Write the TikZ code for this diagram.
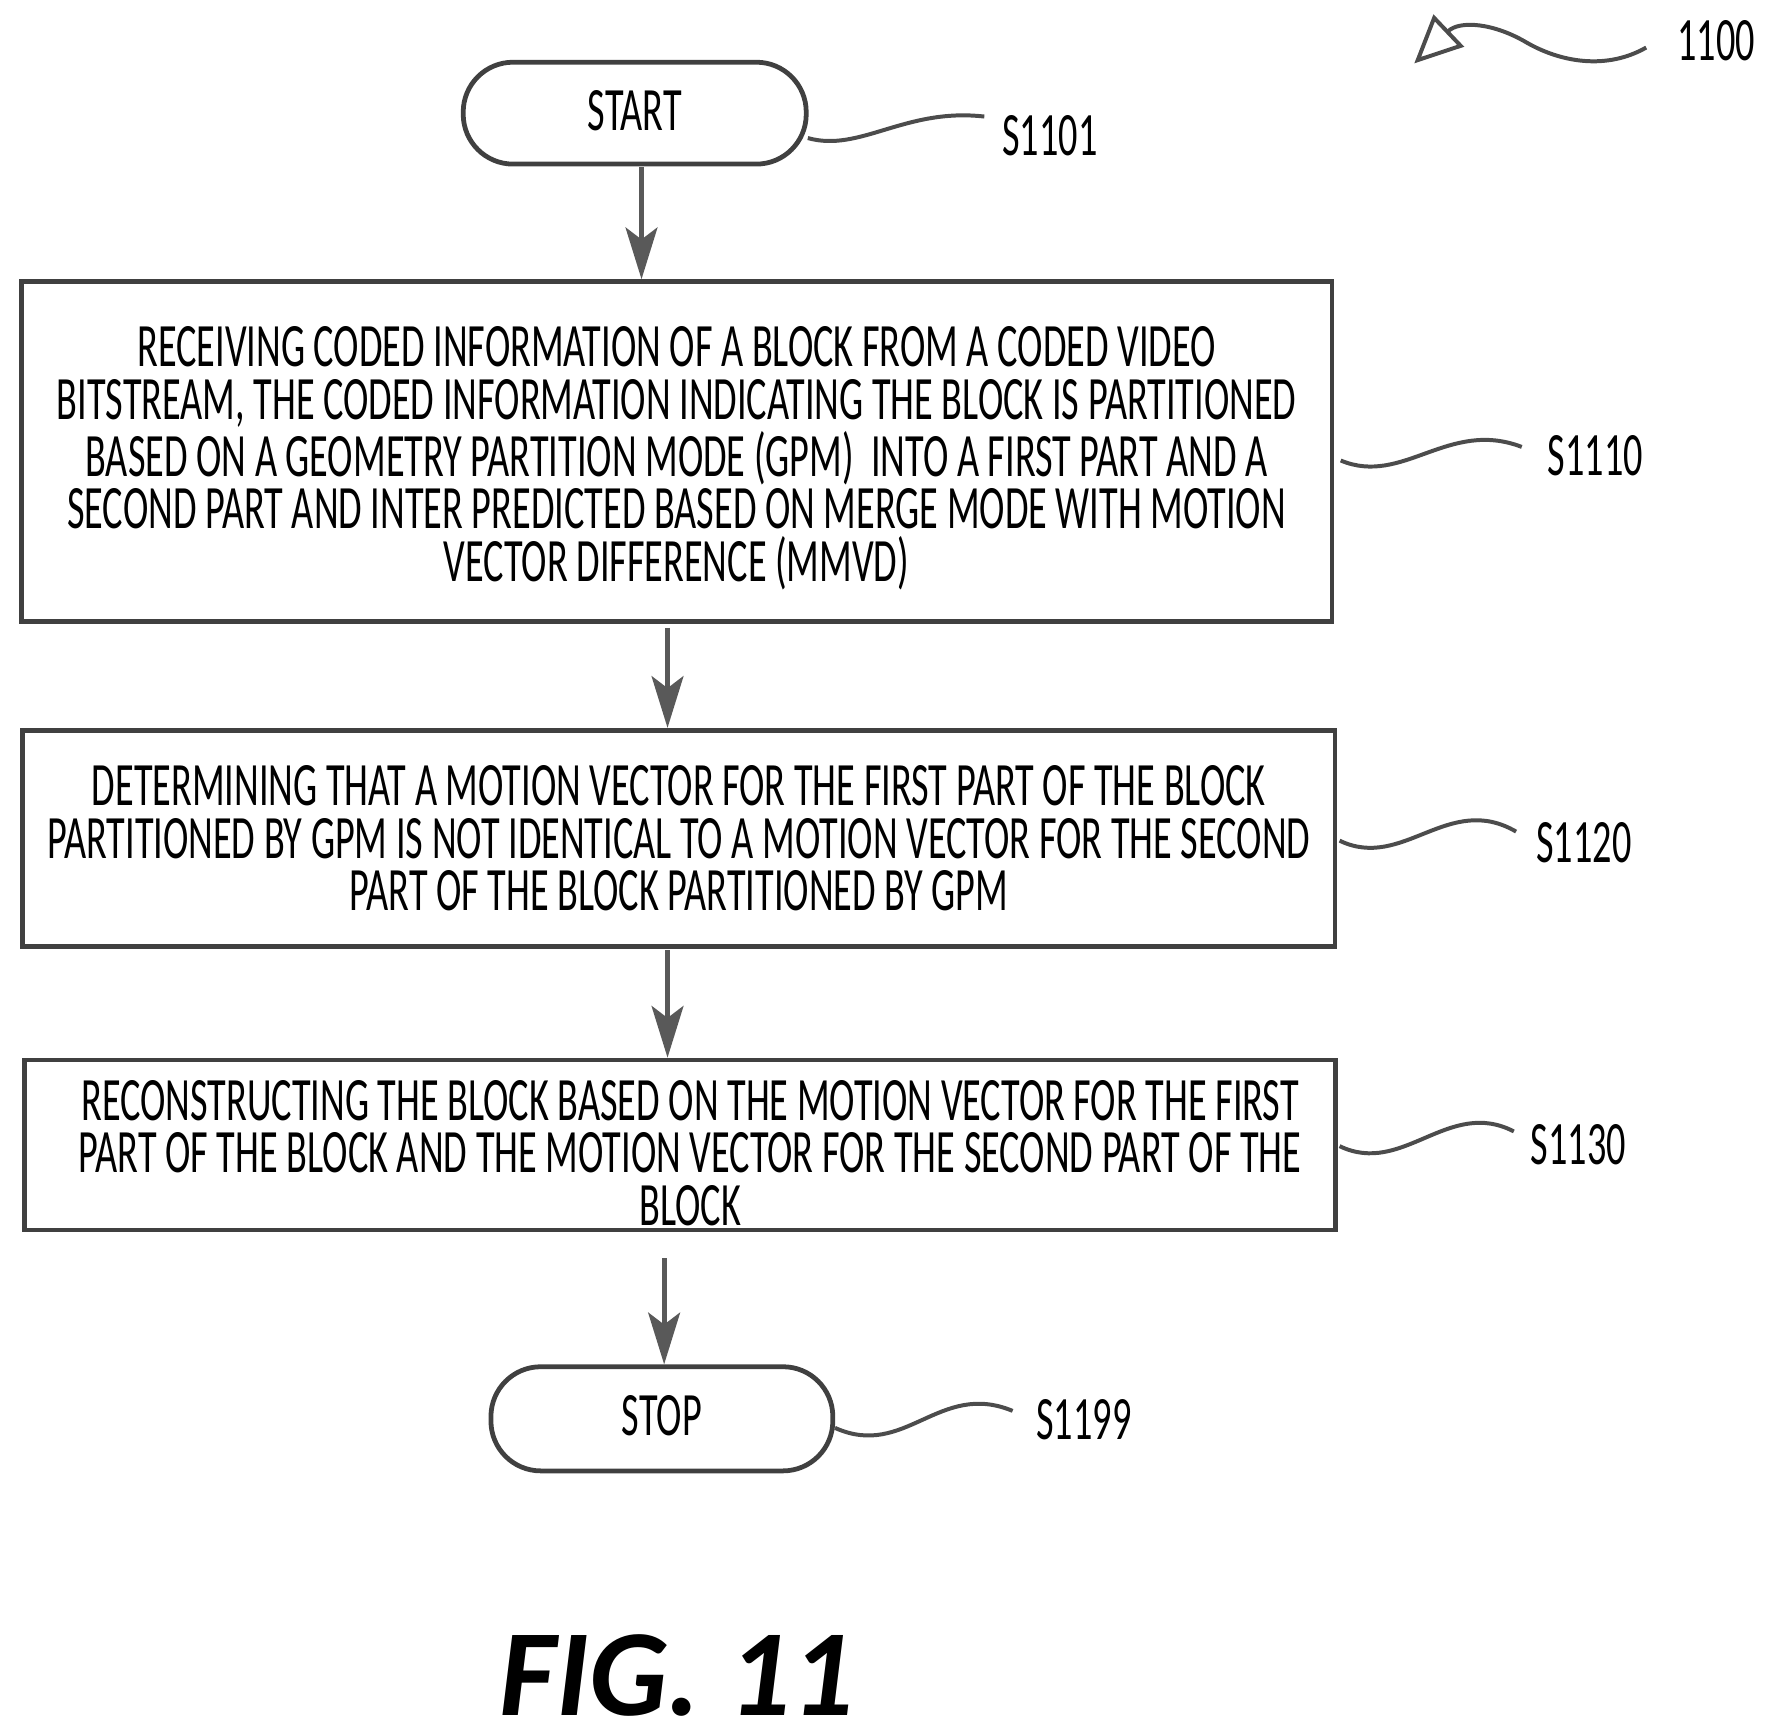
\documentclass[tikz,border=0pt]{standalone}
\usepackage{fontspec}
\setmainfont{Carlito}[FakeStretch=0.62]
\newfontfamily\figfont{Carlito}
\usetikzlibrary{arrows.meta}
\begin{document}
\begin{tikzpicture}[x=0.01cm,y=-0.01cm,
  box/.style={draw=black!75,line width=1.2pt,inner sep=0pt},
  pill/.style={draw=black!75,line width=1.2pt,rounded corners=0.44cm,inner sep=0pt},
  txt/.style={font=\fontsize{15.5}{13.2}\selectfont,align=center},
  lbl/.style={font=\fontsize{15.5}{13.2}\selectfont},
  arr/.style={draw=black!65,line width=1.2pt,-{Stealth[length=13pt,width=8pt,inset=3pt]}},
  sq/.style={draw=black!70,line width=1pt}]
\useasboundingbox (0,0) rectangle (1560,1532);
% start
\node[pill,minimum width=3.03cm,minimum height=0.9cm] (start) at (561,100) {};
\node[txt] (starttxt) at (561,98) {START};
\node[lbl] (l1101) at (928,120) {S1101};
\coordinate (c1101) at (870,103);
\draw[sq] (714,122) .. controls (760,135) and (800,95) .. (c1101);
% box 1
\node[box,minimum width=11.58cm,minimum height=3.0cm] (b1) at (598,399) {};
\node[txt] (b1t) at (598,405) {RECEIVING CODED INFORMATION OF A BLOCK FROM A CODED VIDEO\\
BITSTREAM, THE CODED INFORMATION INDICATING THE BLOCK IS PARTITIONED\\
BASED ON A GEOMETRY PARTITION MODE (GPM)\ \ INTO A FIRST PART AND A\\
SECOND PART AND INTER PREDICTED BASED ON MERGE MODE WITH MOTION\\
VECTOR DIFFERENCE (MMVD)};
\node[lbl] (l1110) at (1410,403) {S1110};
\coordinate (c1110) at (1345,395);
\draw[sq] (1185,407) .. controls (1240,430) and (1280,370) .. (c1110);
% box 2
\node[box,minimum width=11.59cm,minimum height=1.91cm] (b2) at (600,741) {};
\node[txt] (b2t) at (600,741) {DETERMINING THAT A MOTION VECTOR FOR THE FIRST PART OF THE BLOCK\\
PARTITIONED BY GPM IS NOT IDENTICAL TO A MOTION VECTOR FOR THE SECOND\\
PART OF THE BLOCK PARTITIONED BY GPM};
\node[lbl] (l1120) at (1400,745) {S1120};
\coordinate (c1120) at (1340,735);
\draw[sq] (1184,743) .. controls (1240,770) and (1280,700) .. (c1120);
% box 3
\node[box,minimum width=11.58cm,minimum height=1.5cm] (b3) at (601,1012) {};
\node[txt] (b3t) at (610,1019) {RECONSTRUCTING THE BLOCK BASED ON THE MOTION VECTOR FOR THE FIRST\\
PART OF THE BLOCK AND THE MOTION VECTOR FOR THE SECOND PART OF THE\\
BLOCK};
\node[lbl] (l1130) at (1395,1012) {S1130};
\coordinate (c1130) at (1338,1000);
\draw[sq] (1184,1013) .. controls (1240,1040) and (1280,970) .. (c1130);
% stop
\node[pill,minimum width=3.02cm,minimum height=0.92cm] (stop) at (585,1254) {};
\node[txt] (stoptxt) at (585,1251) {STOP};
\node[lbl] (l1199) at (958,1255) {S1199};
\coordinate (c1199) at (895,1247);
\draw[sq] (738,1262) .. controls (800,1290) and (830,1220) .. (c1199);
% arrows
\draw[arr] (567,148) -- (b1.north -| 567,0);
\draw[arr] (590,555) -- (b2.north -| 590,0);
\draw[arr] (590,840) -- (b3.north -| 590,0);
\draw[arr] (587,1112) -- (stop.north -| 587,0);
% 1100
\node[lbl] (l1100) at (1517,36) {1100};
\coordinate (c1100) at (1250,56);
\draw[draw=black!70,line width=1pt,-{Triangle[open,length=12pt,width=11pt]}] (1455,42) .. controls (1420,62) and (1380,55) .. (1350,38) .. controls (1320,20) and (1290,18) .. (c1100);
% fig
\node[font=\figfont\bfseries\itshape\fontsize{31}{33}\selectfont] (fig) at (598,1481) {FIG. 11};
\end{tikzpicture}
\end{document}
